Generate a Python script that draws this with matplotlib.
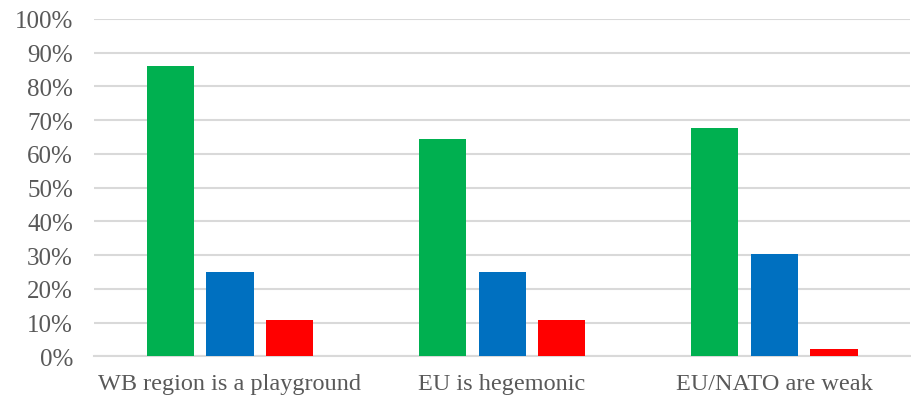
import matplotlib
matplotlib.use("Agg")
import matplotlib.pyplot as plt
import numpy as np
from matplotlib.ticker import PercentFormatter

# data
categories = ["WB region is a playground", "EU is hegemonic", "EU/NATO are weak"]
green_vals = [86.0, 64.3, 67.7]
blue_vals = [25.1, 25.1, 30.3]
red_vals = [10.7, 10.7, 2.3]

series = [green_vals, blue_vals, red_vals]
colors = ["#00B050", "#0070C0", "#FF0000"]

plt.rcParams["font.family"] = ["Liberation Serif", "DejaVu Serif"]

fig = plt.figure(figsize=(9.12, 4.06), dpi=100)
ax = fig.add_axes([0.103, 0.12, 0.895, 0.831])

x = np.arange(len(categories))
width = 0.173
step = 0.22
for i, (vals, c) in enumerate(zip(series, colors)):
    ax.bar(x + (i - 1) * step, vals, width=width, color=c, zorder=3)

ax.set_xlim(-0.5, len(categories) - 0.5)
ax.set_ylim(0, 100)
ax.set_yticks(np.arange(0, 101, 10))
ax.yaxis.set_major_formatter(PercentFormatter(decimals=0))
ax.set_xticks(x)
ax.set_xticklabels(categories)

ax.grid(axis="y", color="#d9d9d9", linewidth=1.5, zorder=0)
for s in ["top", "right", "left"]:
    ax.spines[s].set_visible(False)
ax.spines["bottom"].set_color("#d9d9d9")
ax.spines["bottom"].set_linewidth(1.5)
ax.tick_params(axis="both", length=0, colors="#595959")
ax.tick_params(axis="y", pad=15, labelsize=18)
ax.tick_params(axis="x", pad=12, labelsize=17.5)

fig.savefig("out.png", dpi=100)
